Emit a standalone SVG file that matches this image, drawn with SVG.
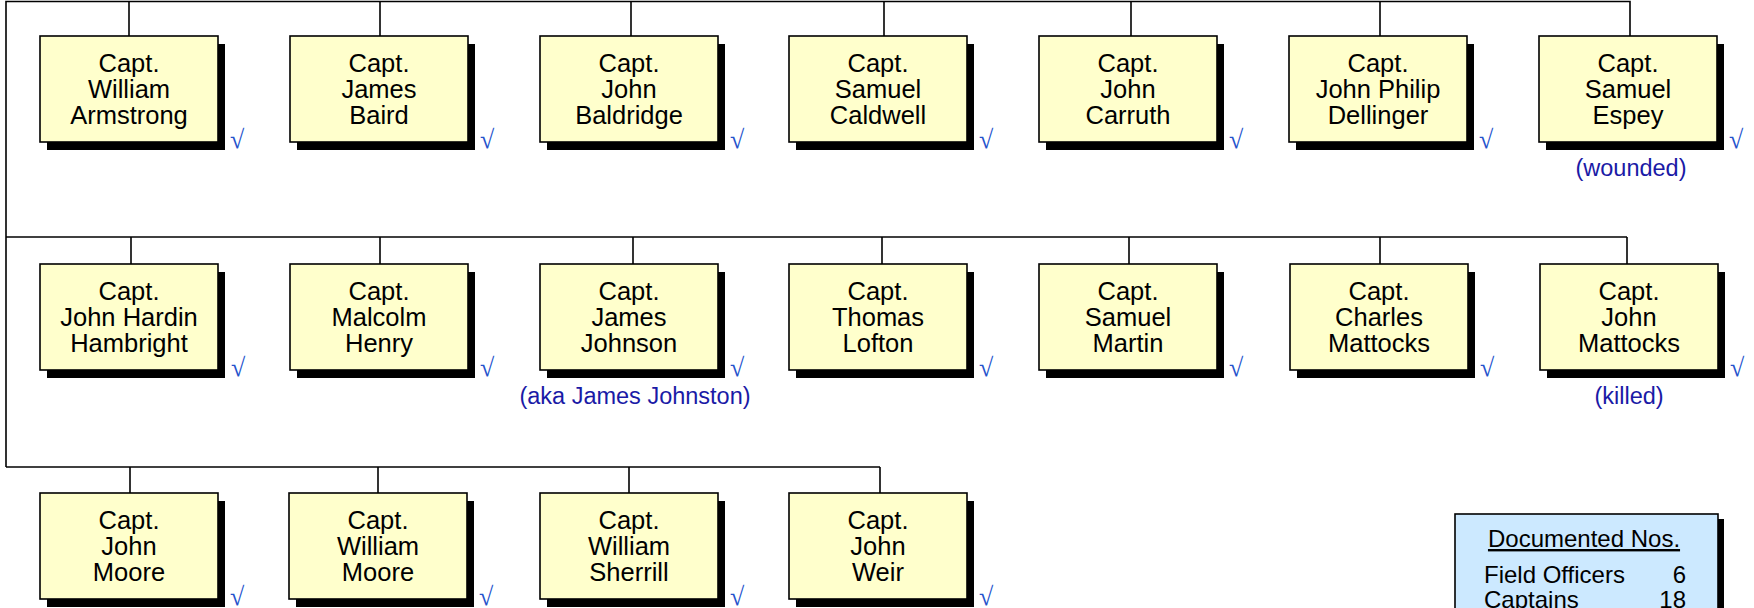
<svg xmlns="http://www.w3.org/2000/svg" width="1754" height="608" viewBox="0 0 1754 608">
<defs>
<style>
.box{fill:#ffffcc;stroke:#000;stroke-width:1.6}
.sh{fill:#000}
.t{font-family:"Liberation Sans",Arial,sans-serif;font-size:25.5px;fill:#000;text-anchor:middle}
.ck{font-family:"Liberation Serif","Times New Roman",serif;font-size:26px;fill:#2452cc}
.note{font-family:"Liberation Sans",Arial,sans-serif;font-size:23.5px;fill:#1a1aa6;text-anchor:middle}
.lg{font-family:"Liberation Sans",Arial,sans-serif;font-size:24px;fill:#000}
.ln{fill:none;stroke:#000;stroke-width:1.6}
</style>
</defs>
<rect width="1754" height="608" fill="#fff"/>
<g id="connectors" class="ln">
<polyline points="1630,36 1630,1.5 6,1.5 6,467"/>
<line x1="6" y1="237" x2="1627" y2="237"/>
<line x1="6" y1="467" x2="880" y2="467"/>
<line x1="129" y1="1.5" x2="129" y2="36"/>
<line x1="380" y1="1.5" x2="380" y2="36"/>
<line x1="631" y1="1.5" x2="631" y2="36"/>
<line x1="884" y1="1.5" x2="884" y2="36"/>
<line x1="1131" y1="1.5" x2="1131" y2="36"/>
<line x1="1380" y1="1.5" x2="1380" y2="36"/>
<line x1="131" y1="237" x2="131" y2="264"/>
<line x1="380" y1="237" x2="380" y2="264"/>
<line x1="633" y1="237" x2="633" y2="264"/>
<line x1="882" y1="237" x2="882" y2="264"/>
<line x1="1129" y1="237" x2="1129" y2="264"/>
<line x1="1380" y1="237" x2="1380" y2="264"/>
<line x1="1627" y1="237" x2="1627" y2="264"/>
<line x1="130" y1="467" x2="130" y2="493"/>
<line x1="378" y1="467" x2="378" y2="493"/>
<line x1="629" y1="467" x2="629" y2="493"/>
<line x1="880" y1="467" x2="880" y2="493"/>
</g>

<g id="n1"><rect class="sh" x="47" y="44" width="178" height="106"/><rect class="box" x="40" y="36" width="178" height="106"/><text class="t" x="129"><tspan x="129" y="72">Capt.</tspan><tspan x="129" y="98">William</tspan><tspan x="129" y="124">Armstrong</tspan></text><text class="ck" x="230" y="148">√</text></g>
<g id="n2"><rect class="sh" x="297" y="44" width="178" height="106"/><rect class="box" x="290" y="36" width="178" height="106"/><text class="t"><tspan x="379" y="72">Capt.</tspan><tspan x="379" y="98">James</tspan><tspan x="379" y="124">Baird</tspan></text><text class="ck" x="480" y="148">√</text></g>
<g id="n3"><rect class="sh" x="547" y="44" width="178" height="106"/><rect class="box" x="540" y="36" width="178" height="106"/><text class="t"><tspan x="629" y="72">Capt.</tspan><tspan x="629" y="98">John</tspan><tspan x="629" y="124">Baldridge</tspan></text><text class="ck" x="730" y="148">√</text></g>
<g id="n4"><rect class="sh" x="796" y="44" width="178" height="106"/><rect class="box" x="789" y="36" width="178" height="106"/><text class="t"><tspan x="878" y="72">Capt.</tspan><tspan x="878" y="98">Samuel</tspan><tspan x="878" y="124">Caldwell</tspan></text><text class="ck" x="979" y="148">√</text></g>
<g id="n5"><rect class="sh" x="1046" y="44" width="178" height="106"/><rect class="box" x="1039" y="36" width="178" height="106"/><text class="t"><tspan x="1128" y="72">Capt.</tspan><tspan x="1128" y="98">John</tspan><tspan x="1128" y="124">Carruth</tspan></text><text class="ck" x="1229" y="148">√</text></g>
<g id="n6"><rect class="sh" x="1296" y="44" width="178" height="106"/><rect class="box" x="1289" y="36" width="178" height="106"/><text class="t"><tspan x="1378" y="72">Capt.</tspan><tspan x="1378" y="98">John Philip</tspan><tspan x="1378" y="124">Dellinger</tspan></text><text class="ck" x="1479" y="148">√</text></g>
<g id="n7"><rect class="sh" x="1546" y="44" width="178" height="106"/><rect class="box" x="1539" y="36" width="178" height="106"/><text class="t"><tspan x="1628" y="72">Capt.</tspan><tspan x="1628" y="98">Samuel</tspan><tspan x="1628" y="124">Espey</tspan></text><text class="ck" x="1729" y="148">√</text><text class="note" x="1631" y="176">(wounded)</text></g>

<g id="n8"><rect class="sh" x="47" y="272" width="178" height="106"/><rect class="box" x="40" y="264" width="178" height="106"/><text class="t"><tspan x="129" y="300">Capt.</tspan><tspan x="129" y="326">John Hardin</tspan><tspan x="129" y="352">Hambright</tspan></text><text class="ck" x="231" y="376">√</text></g>
<g id="n9"><rect class="sh" x="297" y="272" width="178" height="106"/><rect class="box" x="290" y="264" width="178" height="106"/><text class="t"><tspan x="379" y="300">Capt.</tspan><tspan x="379" y="326">Malcolm</tspan><tspan x="379" y="352">Henry</tspan></text><text class="ck" x="480" y="376">√</text></g>
<g id="n10"><rect class="sh" x="547" y="272" width="178" height="106"/><rect class="box" x="540" y="264" width="178" height="106"/><text class="t"><tspan x="629" y="300">Capt.</tspan><tspan x="629" y="326">James</tspan><tspan x="629" y="352">Johnson</tspan></text><text class="ck" x="730" y="376">√</text><text class="note" x="635" y="404">(aka James Johnston)</text></g>
<g id="n11"><rect class="sh" x="796" y="272" width="178" height="106"/><rect class="box" x="789" y="264" width="178" height="106"/><text class="t"><tspan x="878" y="300">Capt.</tspan><tspan x="878" y="326">Thomas</tspan><tspan x="878" y="352">Lofton</tspan></text><text class="ck" x="979" y="376">√</text></g>
<g id="n12"><rect class="sh" x="1046" y="272" width="178" height="106"/><rect class="box" x="1039" y="264" width="178" height="106"/><text class="t"><tspan x="1128" y="300">Capt.</tspan><tspan x="1128" y="326">Samuel</tspan><tspan x="1128" y="352">Martin</tspan></text><text class="ck" x="1229" y="376">√</text></g>
<g id="n13"><rect class="sh" x="1297" y="272" width="178" height="106"/><rect class="box" x="1290" y="264" width="178" height="106"/><text class="t"><tspan x="1379" y="300">Capt.</tspan><tspan x="1379" y="326">Charles</tspan><tspan x="1379" y="352">Mattocks</tspan></text><text class="ck" x="1480" y="376">√</text></g>
<g id="n14"><rect class="sh" x="1547" y="272" width="178" height="106"/><rect class="box" x="1540" y="264" width="178" height="106"/><text class="t"><tspan x="1629" y="300">Capt.</tspan><tspan x="1629" y="326">John</tspan><tspan x="1629" y="352">Mattocks</tspan></text><text class="ck" x="1730" y="376">√</text><text class="note" x="1629" y="404">(killed)</text></g>

<g id="n15"><rect class="sh" x="47" y="501" width="178" height="106"/><rect class="box" x="40" y="493" width="178" height="106"/><text class="t"><tspan x="129" y="529">Capt.</tspan><tspan x="129" y="555">John</tspan><tspan x="129" y="581">Moore</tspan></text><text class="ck" x="230" y="605">√</text></g>
<g id="n16"><rect class="sh" x="296" y="501" width="178" height="106"/><rect class="box" x="289" y="493" width="178" height="106"/><text class="t"><tspan x="378" y="529">Capt.</tspan><tspan x="378" y="555">William</tspan><tspan x="378" y="581">Moore</tspan></text><text class="ck" x="479" y="605">√</text></g>
<g id="n17"><rect class="sh" x="547" y="501" width="178" height="106"/><rect class="box" x="540" y="493" width="178" height="106"/><text class="t"><tspan x="629" y="529">Capt.</tspan><tspan x="629" y="555">William</tspan><tspan x="629" y="581">Sherrill</tspan></text><text class="ck" x="730" y="605">√</text></g>
<g id="n18"><rect class="sh" x="796" y="501" width="178" height="106"/><rect class="box" x="789" y="493" width="178" height="106"/><text class="t"><tspan x="878" y="529">Capt.</tspan><tspan x="878" y="555">John</tspan><tspan x="878" y="581">Weir</tspan></text><text class="ck" x="979" y="605">√</text></g>

<g id="legend">
<rect class="sh" x="1461" y="519" width="263" height="100"/>
<rect x="1455" y="514" width="263" height="100" fill="#cce9ff" stroke="#000" stroke-width="1.6"/>
<text class="lg" x="1584" y="547" text-anchor="middle" text-decoration="underline">Documented Nos.</text>
<text class="lg" x="1484" y="583">Field Officers</text>
<text class="lg" x="1686" y="583" text-anchor="end">6</text>
<text class="lg" x="1484" y="608">Captains</text>
<text class="lg" x="1686" y="608" text-anchor="end">18</text>
</g>
</svg>
